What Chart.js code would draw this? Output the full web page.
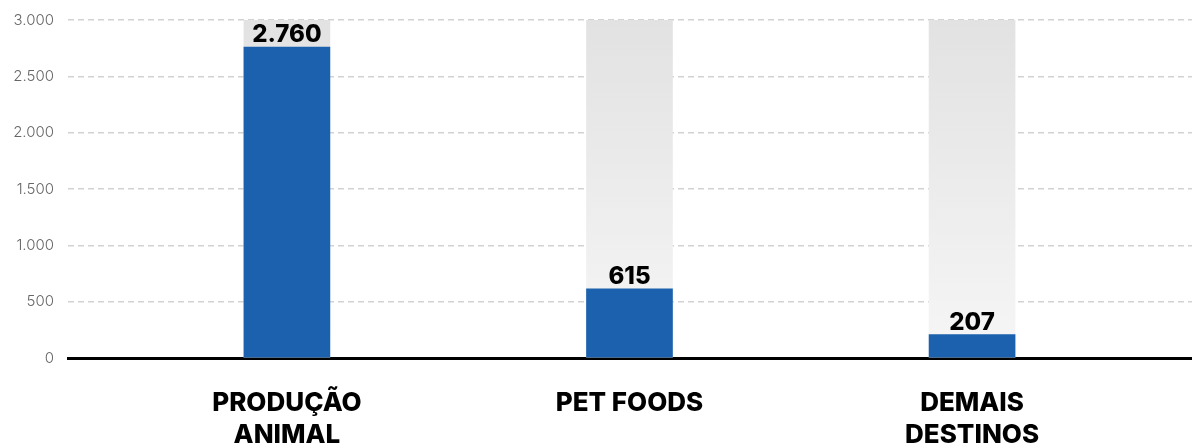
<!DOCTYPE html>
<html lang="pt-BR">
<head>
<meta charset="utf-8">
<title>Destinos</title>
<script src="https://cdn.jsdelivr.net/npm/chart.js@4.4.1/dist/chart.umd.min.js"></script>
<style>
  html, body { margin: 0; padding: 0; background: #ffffff; overflow: hidden; }
  #wrap { position: relative; width: 1192px; height: 445px; }
</style>
</head>
<body>
<div id="wrap"><canvas id="chart" width="1192" height="445"></canvas></div>
<script>
// Categorias (rótulos em duas linhas) e valores
const categories = [["PRODUÇÃO", "ANIMAL"], ["PET FOODS"], ["DEMAIS", "DESTINOS"]];
const values = [2760, 615, 207];
const capacity = [3000, 3000, 3000];
const yTicks = [0, 500, 1000, 1500, 2000, 2500, 3000];

const BLUE = "#1b61ad";

function fmt(n) {
  return String(Math.round(n)).replace(/\B(?=(\d{3})+(?!\d))/g, ".");
}

// Rótulos de valor em negrito acima das barras azuis
const valueLabels = {
  id: "valueLabels",
  afterDatasetsDraw(chart) {
    const meta = chart.getDatasetMeta(1);
    const ctx = chart.ctx;
    ctx.save();
    ctx.font = "800 24px Inter";
    ctx.fillStyle = "#000000";
    ctx.textAlign = "center";
    ctx.textBaseline = "alphabetic";
    meta.data.forEach((bar, i) => {
      ctx.fillText(fmt(values[i]), bar.x, bar.y - 5);
    });
    ctx.restore();
  }
};

const ctx = document.getElementById("chart").getContext("2d");

new Chart(ctx, {
  type: "bar",
  data: {
    datasets: [
      {
        label: "capacidade",
        data: capacity.map((v, i) => ({ x: i, y: v })),
        backgroundColor(c) {
          const area = c.chart.chartArea;
          if (!area) return "#ececec";
          const g = c.chart.ctx.createLinearGradient(0, area.top, 0, area.bottom);
          g.addColorStop(0, "#e2e2e2");
          g.addColorStop(1, "#f6f6f6");
          return g;
        },
        order: 2
      },
      {
        label: "valor",
        data: values.map((v, i) => ({ x: i, y: v })),
        backgroundColor: BLUE,
        order: 1
      }
    ]
  },
  options: {
    responsive: false,
    animation: false,
    events: [],
    layout: { padding: { top: 20, right: 0, left: 0, bottom: 0 } },
    datasets: {
      bar: { grouped: false, barThickness: 86 }
    },
    plugins: {
      legend: { display: false },
      tooltip: { enabled: false }
    },
    scales: {
      x: {
        type: "linear",
        offset: false,
        min: -0.639,
        max: 2.642,
        afterBuildTicks(scale) {
          scale.ticks = categories.map((c, i) => ({ value: i }));
        },
        afterFit(scale) {
          scale.height = 87;
          scale.paddingLeft = 0;
          scale.paddingRight = 0;
        },
        grid: { display: false, drawTicks: false },
        border: { display: true, color: "#000000", width: 3 },
        ticks: {
          padding: 30,
          color: "#000000",
          font: { family: "Inter", size: 26, weight: "800", lineHeight: 1.2 },
          callback(v) { return categories[v] || ""; }
        }
      },
      y: {
        min: 0,
        max: 3000,
        afterBuildTicks(scale) {
          scale.ticks = yTicks.map(v => ({ value: v }));
        },
        afterFit(scale) {
          scale.width = 68;
          scale.paddingTop = 0;
          scale.paddingBottom = 0;
        },
        border: { display: false, dash: [6, 4] },
        grid: { color: "#d2d2d2", lineWidth: 1.5, drawTicks: false },
        ticks: {
          padding: 14,
          color: "#666666",
          font: { family: "Inter", size: 15, weight: "300" },
          callback(v) { return fmt(v); }
        }
      }
    }
  },
  plugins: [valueLabels]
});
</script>
</body>
</html>
